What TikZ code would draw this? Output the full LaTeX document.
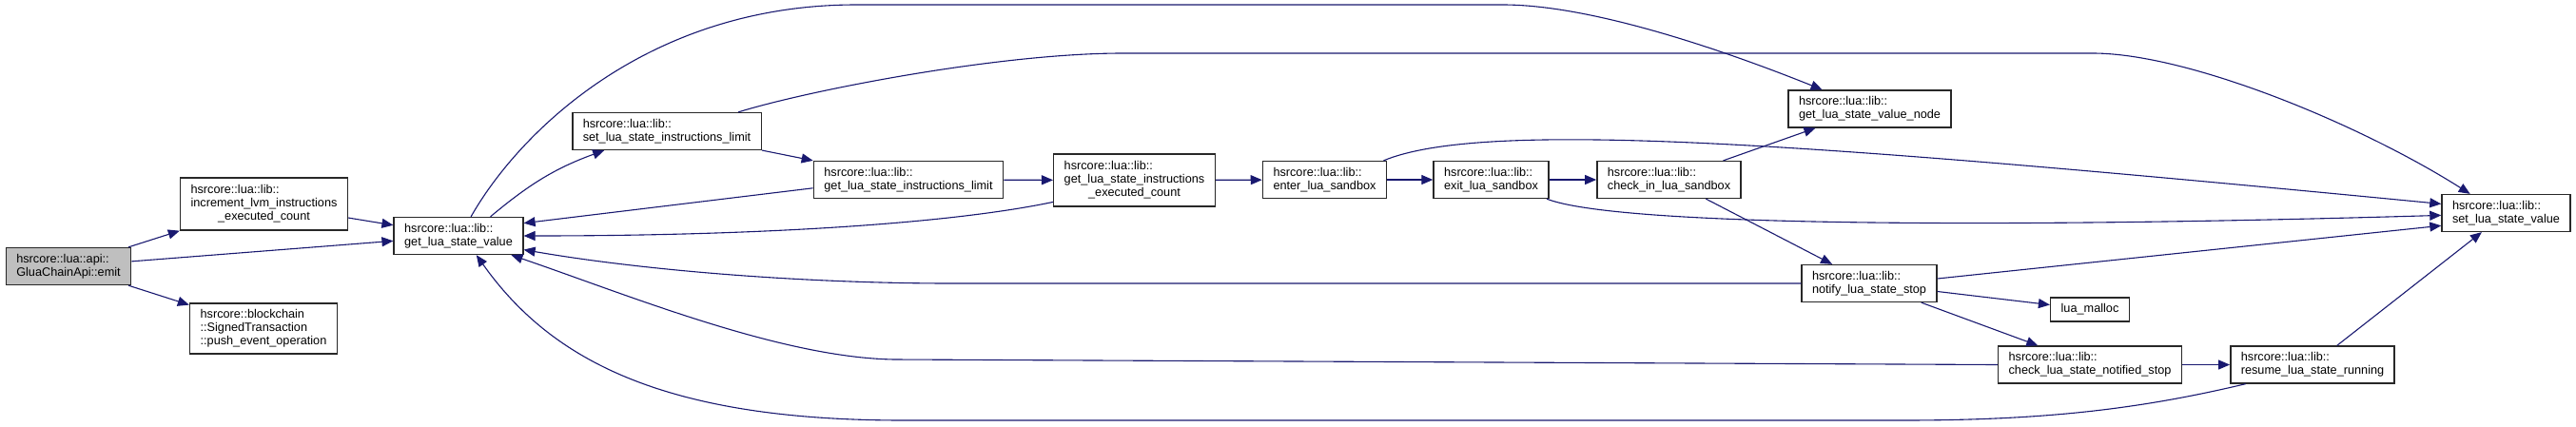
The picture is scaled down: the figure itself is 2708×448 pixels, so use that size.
\documentclass[tikz,border=0pt]{standalone}
\usepackage{fontspec}
\setmainfont{Liberation Sans}
\usetikzlibrary{arrows.meta}
\definecolor{edgeblue}{RGB}{25,25,112}
\definecolor{boxgrey}{RGB}{191,191,191}
\definecolor{boxline}{RGB}{40,40,40}
\tikzset{
  fn/.style={draw=boxline, line width=1.5pt, fill=white, align=left, inner xsep=11pt, inner ysep=6.5pt},
  call/.style={edgeblue, line width=1.1pt, -{Triangle[length=12pt, width=10pt]}}
}

\begin{document}
\begin{tikzpicture}[x=1pt, y=-1pt, font=\fontsize{12.7}{14}\selectfont]
    \path[use as bounding box, fill=white] (0,0) rectangle (2708,448);

    % functions
    \node[fn, fill=boxgrey] (emit) at (72,280) {hsrcore::lua::api::\\GluaChainApi::emit};
    \node[fn] (inc) at (277.5,214.5) {\begin{tabular}{@{}l@{}}hsrcore::lua::lib::\\increment\_lvm\_instructions\\\multicolumn{1}{@{}c@{}}{\_executed\_count}\end{tabular}};
    \node[fn] (push) at (277,345.5) {hsrcore::blockchain\\::SignedTransaction\\::push\_event\_operation};
    \node[fn] (glsv) at (482,248) {hsrcore::lua::lib::\\get\_lua\_state\_value};
    \node[fn] (slsil) at (701,138) {hsrcore::lua::lib::\\set\_lua\_state\_instructions\_limit};
    \node[fn] (glsil) at (955,189) {hsrcore::lua::lib::\\get\_lua\_state\_instructions\_limit};
    \node[fn] (glsiec) at (1192.5,189.5) {\begin{tabular}{@{}l@{}}hsrcore::lua::lib::\\get\_lua\_state\_instructions\\\multicolumn{1}{@{}c@{}}{\_executed\_count}\end{tabular}};
    \node[fn] (enter) at (1392.5,189) {hsrcore::lua::lib::\\enter\_lua\_sandbox};
    \node[fn] (exit) at (1567.5,189) {hsrcore::lua::lib::\\exit\_lua\_sandbox};
    \node[fn] (checkin) at (1754.5,189) {hsrcore::lua::lib::\\check\_in\_lua\_sandbox};
    \node[fn] (vnode) at (1965.5,114.5) {hsrcore::lua::lib::\\get\_lua\_state\_value\_node};
    \node[fn] (slsv) at (2634.5,224) {hsrcore::lua::lib::\\set\_lua\_state\_value};
    \node[fn] (notify) at (1965,298) {hsrcore::lua::lib::\\notify\_lua\_state\_stop};
    \node[fn] (malloc) at (2197,325.5) {lua\_malloc};
    \node[fn] (cnotified) at (2197,383.5) {hsrcore::lua::lib::\\check\_lua\_state\_notified\_stop};
    \node[fn] (resume) at (2431,383.5) {hsrcore::lua::lib::\\resume\_lua\_state\_running};

    % straight calls
    \foreach \a/\b in {emit/inc, emit/glsv, emit/push, inc/glsv, slsil/glsil, glsil/glsiec,
        glsiec/enter, enter/exit, exit/checkin, checkin/vnode, checkin/notify,
        notify/malloc, notify/cnotified, cnotified/resume, resume/slsv}
        \draw[call] (\a) -- (\b);
    \draw[call] (glsil.185) -- (glsv.11);
    \draw[call] (notify.4) -- (slsv.191);

    % curved calls
    \draw[call] (glsv.31) to[out=40, in=200] (slsil.197);
    \draw[call] (glsv.57) .. controls (545,140) and (680,5) .. (900,5) -- (1580,5)
        .. controls (1680,5) and (1830,60) .. (vnode.158);
    \draw[call] (slsil.15) .. controls (850,95) and (1050,56) .. (1180,56) -- (2200,56)
        .. controls (2300,56) and (2480,130) .. (slsv.152);
    \draw[call] (glsiec.195) .. controls (1000,235) and (800,248) .. (glsv.east);
    \draw[call] (enter.18) .. controls (1560,125) and (1900,150) .. (slsv.172);
    \draw[call] (exit.-19) .. controls (1700,238) and (2100,240) .. (slsv.182);
    \draw[call] (notify.west) -- (1000,298) .. controls (850,298) and (680,285) .. (glsv.348);
    \draw[call] (cnotified.west) -- (940,378) .. controls (820,376) and (660,310) .. (glsv.340);
    \draw[call] (resume.196) .. controls (2250,430) and (2150,442) .. (2000,442) -- (950,442)
        .. controls (700,442) and (580,380) .. (glsv.313);
\end{tikzpicture}
\end{document}
